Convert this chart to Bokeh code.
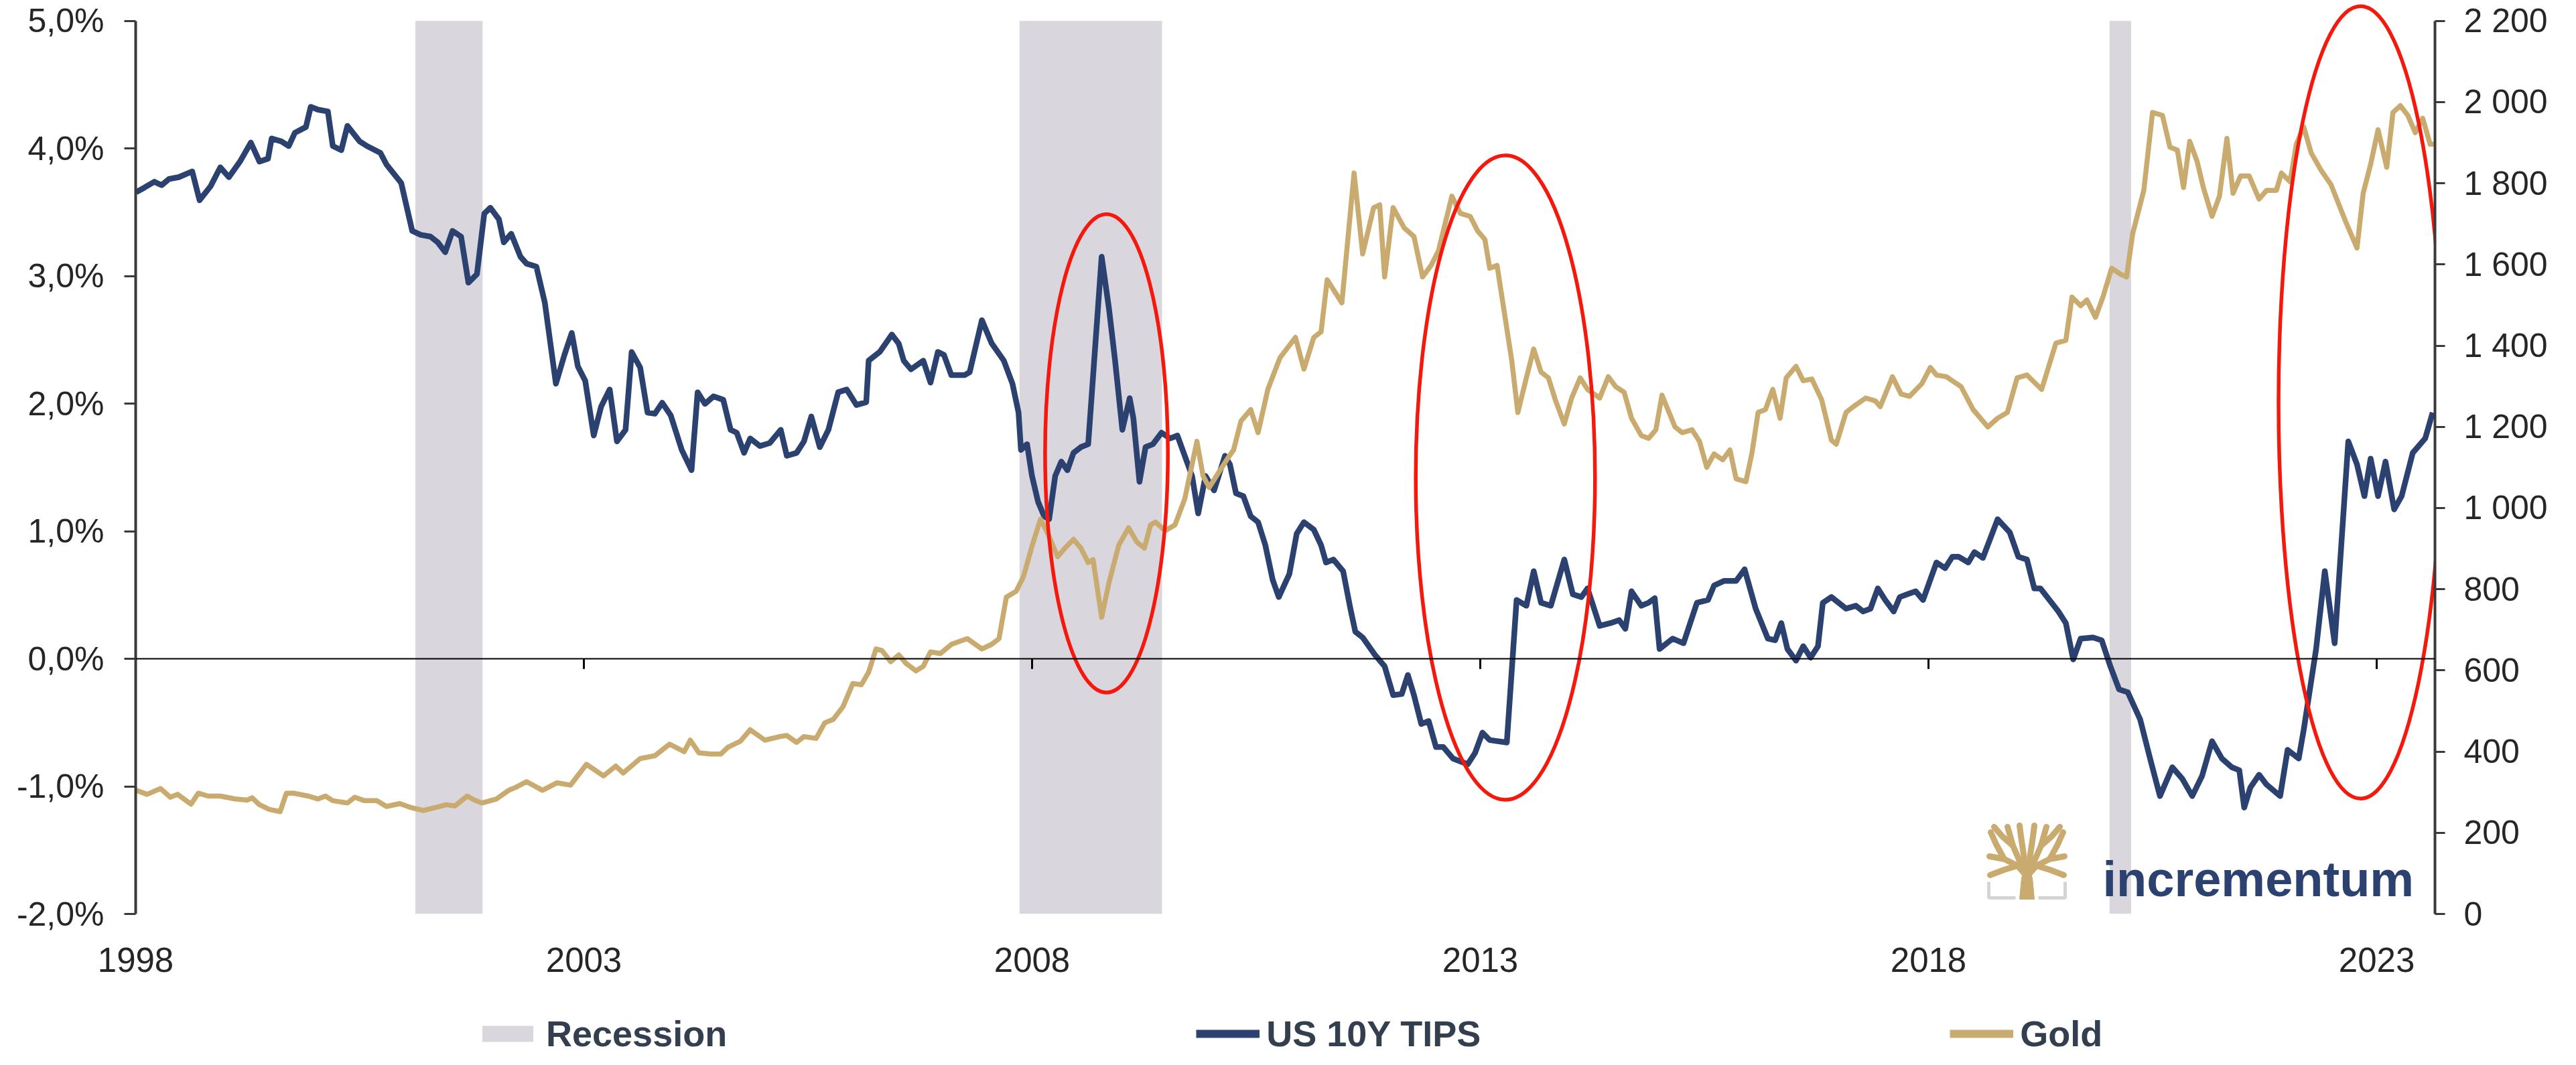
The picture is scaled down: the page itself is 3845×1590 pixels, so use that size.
from bokeh.plotting import figure
from bokeh.layouts import column
from bokeh.models import Range1d, LinearAxis, FixedTicker, Span, Legend, LegendItem
from bokeh.core.properties import value
from bokeh.embed import file_html
from bokeh.resources import INLINE

# ---------------- data ----------------
tips_x = [1998.004, 1998.099, 1998.208, 1998.290, 1998.372, 1998.481, 1998.631, 1998.713, 1998.835, 1998.944,
          1999.040, 1999.163, 1999.285, 1999.381, 1999.476, 1999.517, 1999.626, 1999.708, 1999.776, 1999.899,
          1999.953, 2000.035, 2000.144, 2000.199, 2000.294, 2000.362, 2000.499, 2000.580, 2000.730, 2000.798,
          2000.962, 2001.085, 2001.180, 2001.289, 2001.371, 2001.453, 2001.535, 2001.630, 2001.712, 2001.807,
          2001.889, 2001.957, 2002.052, 2002.107, 2002.189, 2002.293, 2002.361, 2002.470, 2002.565, 2002.688,
          2002.783, 2002.865, 2002.933, 2003.015, 2003.110, 2003.192, 2003.288, 2003.369, 2003.465, 2003.533,
          2003.628, 2003.710, 2003.792, 2003.874, 2003.969, 2004.092, 2004.201, 2004.269, 2004.351, 2004.446,
          2004.555, 2004.637, 2004.705, 2004.787, 2004.855, 2004.964, 2005.073, 2005.196, 2005.264, 2005.373,
          2005.455, 2005.537, 2005.632, 2005.728, 2005.837, 2005.932, 2006.041, 2006.150, 2006.177, 2006.300,
          2006.436, 2006.513, 2006.568, 2006.649, 2006.786, 2006.867, 2006.949, 2007.017, 2007.099, 2007.249,
          2007.304, 2007.440, 2007.549, 2007.685, 2007.781, 2007.849, 2007.876, 2007.944, 2007.999, 2008.067,
          2008.135, 2008.190, 2008.258, 2008.326, 2008.394, 2008.462, 2008.544, 2008.626, 2008.776, 2008.858,
          2008.926, 2009.007, 2009.089, 2009.130, 2009.198, 2009.266, 2009.348, 2009.444, 2009.539, 2009.621,
          2009.785, 2009.853, 2009.935, 2010.030, 2010.152, 2010.207, 2010.275, 2010.357, 2010.439, 2010.521,
          2010.602, 2010.684, 2010.752, 2010.870, 2010.952, 2011.033, 2011.142, 2011.224, 2011.279, 2011.361,
          2011.470, 2011.551, 2011.606, 2011.688, 2011.824, 2011.933, 2012.028, 2012.124, 2012.192, 2012.260,
          2012.342, 2012.424, 2012.506, 2012.587, 2012.696, 2012.860, 2012.942, 2013.024, 2013.105, 2013.296,
          2013.405, 2013.514, 2013.596, 2013.678, 2013.787, 2013.937, 2014.032, 2014.128, 2014.196, 2014.332,
          2014.455, 2014.550, 2014.618, 2014.687, 2014.796, 2014.877, 2014.946, 2015.000, 2015.145, 2015.267,
          2015.417, 2015.540, 2015.608, 2015.717, 2015.854, 2015.949, 2016.072, 2016.208, 2016.290, 2016.358,
          2016.426, 2016.522, 2016.603, 2016.685, 2016.767, 2016.821, 2016.917, 2017.080, 2017.190, 2017.271,
          2017.353, 2017.435, 2017.517, 2017.612, 2017.680, 2017.762, 2017.857, 2017.939, 2018.089, 2018.185,
          2018.266, 2018.335, 2018.444, 2018.512, 2018.607, 2018.771, 2018.907, 2019.002, 2019.098, 2019.180,
          2019.248, 2019.449, 2019.532, 2019.614, 2019.697, 2019.836, 2019.932, 2020.029, 2020.126, 2020.223,
          2020.361, 2020.472, 2020.582, 2020.720, 2020.831, 2020.942, 2021.052, 2021.163, 2021.273, 2021.384,
          2021.467, 2021.522, 2021.591, 2021.688, 2021.771, 2021.923, 2022.006, 2022.130, 2022.186, 2022.324,
          2022.421, 2022.531, 2022.683, 2022.780, 2022.863, 2022.932, 2023.015, 2023.098, 2023.195, 2023.278,
          2023.402, 2023.541, 2023.624]
tips_y = [3.657, 3.694, 3.739, 3.712, 3.761, 3.775, 3.820, 3.594, 3.703, 3.852,
          3.775, 3.897, 4.046, 3.897, 3.920, 4.078, 4.055, 4.019, 4.123, 4.168,
          4.326, 4.304, 4.290, 4.019, 3.987, 4.177, 4.055, 4.019, 3.965, 3.874,
          3.730, 3.354, 3.323, 3.309, 3.264, 3.187, 3.354, 3.309, 2.948, 3.015,
          3.490, 3.535, 3.445, 3.264, 3.332, 3.151, 3.097, 3.074, 2.789, 2.156,
          2.382, 2.554, 2.292, 2.179, 1.750, 1.976, 2.111, 1.704, 1.795, 2.405,
          2.283, 1.930, 1.921, 2.007, 1.908, 1.637, 1.478, 2.089, 1.998, 2.057,
          2.030, 1.795, 1.772, 1.614, 1.727, 1.668, 1.691, 1.795, 1.591, 1.614,
          1.704, 1.899, 1.659, 1.795, 2.089, 2.111, 1.989, 2.012, 2.337, 2.405,
          2.541, 2.470, 2.337, 2.269, 2.337, 2.165, 2.405, 2.382, 2.224, 2.224,
          2.247, 2.654, 2.473, 2.337, 2.156, 1.930, 1.637, 1.682, 1.433, 1.230,
          1.117, 1.094, 1.433, 1.546, 1.478, 1.614, 1.659, 1.682, 3.151, 2.744,
          2.337, 1.795, 2.043, 1.885, 1.388, 1.659, 1.682, 1.772, 1.727, 1.750,
          1.433, 1.139, 1.433, 1.320, 1.591, 1.524, 1.297, 1.275, 1.117, 1.071,
          0.891, 0.619, 0.484, 0.664, 0.981, 1.071, 1.013, 0.891, 0.755, 0.778,
          0.687, 0.393, 0.212, 0.167, 0.032, -0.059, -0.285, -0.276, -0.127, -0.285,
          -0.511, -0.488, -0.692, -0.692, -0.782, -0.827, -0.737, -0.579, -0.637, -0.656,
          0.461, 0.416, 0.687, 0.439, 0.416, 0.778, 0.506, 0.484, 0.552, 0.258,
          0.280, 0.303, 0.235, 0.529, 0.416, 0.439, 0.475, 0.077, 0.158, 0.122,
          0.439, 0.461, 0.574, 0.610, 0.610, 0.701, 0.393, 0.158, 0.145, 0.280,
          0.077, -0.014, 0.099, 0.009, 0.099, 0.439, 0.484, 0.393, 0.416, 0.371,
          0.393, 0.552, 0.461, 0.371, 0.484, 0.506, 0.529, 0.461, 0.755, 0.710,
          0.800, 0.800, 0.755, 0.836, 0.791, 1.094, 0.990, 0.800, 0.778, 0.552,
          0.552, 0.371, 0.280, -0.005, 0.158, 0.167, 0.145, -0.059, -0.240, -0.262,
          -0.475, -0.782, -1.076, -0.850, -0.940, -1.076, -0.918, -0.646, -0.782, -0.850,
          -0.873, -1.166, -1.008, -0.909, -0.986, -1.076, -0.714, -0.782, -0.556, 0.077,
          0.687, 0.122, 1.704, 1.524, 1.275, 1.569, 1.275, 1.546, 1.171, 1.275,
          1.614, 1.727, 1.930]

gold_x = [1998.004, 1998.127, 1998.277, 1998.386, 1998.467, 1998.617, 1998.699, 1998.808, 1998.944, 1999.108,
          1999.244, 1999.299, 1999.381, 1999.490, 1999.612, 1999.681, 1999.762, 1999.926, 2000.035, 2000.117,
          2000.199, 2000.362, 2000.444, 2000.553, 2000.689, 2000.798, 2000.948, 2001.071, 2001.207, 2001.344,
          2001.467, 2001.562, 2001.698, 2001.780, 2001.862, 2002.025, 2002.162, 2002.238, 2002.361, 2002.538,
          2002.701, 2002.851, 2003.029, 2003.219, 2003.356, 2003.438, 2003.628, 2003.792, 2003.956, 2004.119,
          2004.187, 2004.283, 2004.419, 2004.528, 2004.610, 2004.746, 2004.855, 2005.019, 2005.182, 2005.264,
          2005.373, 2005.455, 2005.591, 2005.687, 2005.782, 2005.891, 2006.000, 2006.096, 2006.177, 2006.259,
          2006.327, 2006.423, 2006.513, 2006.595, 2006.704, 2006.786, 2006.867, 2006.976, 2007.099, 2007.276,
          2007.440, 2007.549, 2007.631, 2007.713, 2007.822, 2007.903, 2008.012, 2008.094, 2008.176, 2008.285,
          2008.367, 2008.462, 2008.544, 2008.626, 2008.680, 2008.776, 2008.858, 2008.967, 2009.076, 2009.171,
          2009.253, 2009.321, 2009.376, 2009.485, 2009.594, 2009.703, 2009.771, 2009.839, 2009.907, 2009.976,
          2010.057, 2010.180, 2010.248, 2010.330, 2010.439, 2010.521, 2010.630, 2010.766, 2010.938, 2011.033,
          2011.142, 2011.224, 2011.292, 2011.456, 2011.592, 2011.688, 2011.810, 2011.878, 2011.933, 2012.028,
          2012.151, 2012.260, 2012.356, 2012.451, 2012.533, 2012.683, 2012.778, 2012.887, 2012.969, 2013.051,
          2013.105, 2013.187, 2013.351, 2013.419, 2013.514, 2013.596, 2013.678, 2013.760, 2013.841, 2013.937,
          2014.019, 2014.114, 2014.196, 2014.332, 2014.428, 2014.509, 2014.605, 2014.687, 2014.796, 2014.877,
          2014.959, 2015.027, 2015.172, 2015.254, 2015.363, 2015.445, 2015.526, 2015.608, 2015.704, 2015.785,
          2015.854, 2015.963, 2016.031, 2016.099, 2016.181, 2016.263, 2016.344, 2016.413, 2016.522, 2016.603,
          2016.699, 2016.808, 2016.917, 2016.971, 2017.080, 2017.162, 2017.299, 2017.408, 2017.462, 2017.598,
          2017.694, 2017.789, 2017.926, 2018.021, 2018.089, 2018.198, 2018.362, 2018.498, 2018.662, 2018.771,
          2018.880, 2018.989, 2019.098, 2019.262, 2019.421, 2019.532, 2019.601, 2019.697, 2019.767, 2019.863,
          2019.946, 2020.043, 2020.140, 2020.209, 2020.278, 2020.402, 2020.499, 2020.610, 2020.693, 2020.776,
          2020.845, 2020.914, 2020.997, 2021.066, 2021.163, 2021.246, 2021.329, 2021.398, 2021.481, 2021.577,
          2021.688, 2021.771, 2021.881, 2021.937, 2022.034, 2022.103, 2022.186, 2022.269, 2022.379, 2022.490,
          2022.656, 2022.780, 2022.849, 2022.932, 2023.015, 2023.112, 2023.181, 2023.264, 2023.347, 2023.430,
          2023.513, 2023.596, 2023.637]
gold_y = [304.6, 294.7, 308.9, 287.6, 294.7, 270.5, 297.5, 290.4, 290.4, 283.3,
          280.5, 286.1, 269.1, 257.7, 252.0, 297.5, 297.5, 290.4, 283.3, 290.4,
          279.1, 273.3, 287.6, 279.1, 279.1, 264.8, 271.9, 262.0, 254.9, 262.0,
          269.1, 266.2, 290.4, 280.5, 273.3, 283.3, 304.6, 311.7, 325.9, 304.6,
          323.1, 317.4, 368.6, 340.1, 364.3, 347.2, 382.8, 389.9, 418.3, 399.8,
          428.2, 397.0, 394.1, 394.1, 411.2, 425.4, 453.8, 428.2, 436.8, 439.6,
          422.6, 436.8, 432.5, 470.9, 479.4, 510.7, 567.5, 564.7, 595.9, 652.8,
          648.5, 621.5, 638.0, 617.2, 598.8, 610.1, 645.7, 641.4, 664.1, 678.3,
          652.8, 664.1, 678.3, 780.6, 794.9, 830.4, 915.6, 972.5, 936.9, 880.1,
          901.4, 922.7, 901.4, 865.9, 873.0, 730.9, 816.2, 908.5, 951.2, 915.6,
          901.4, 958.3, 965.4, 944.1, 958.3, 1022.2, 1093.3, 1164.3, 1079.1, 1050.6,
          1079.1, 1121.7, 1143.0, 1214.1, 1242.5, 1185.6, 1292.2, 1370.4, 1420.1, 1341.9,
          1420.1, 1434.3, 1562.2, 1505.4, 1825.1, 1626.1, 1739.8, 1746.9, 1569.3, 1739.8,
          1690.1, 1668.8, 1569.3, 1597.7, 1633.2, 1768.2, 1725.6, 1718.5, 1683.0, 1661.7,
          1590.6, 1597.7, 1363.3, 1235.4, 1320.6, 1391.7, 1334.8, 1320.6, 1263.8, 1206.9,
          1270.9, 1320.6, 1292.2, 1270.9, 1323.5, 1299.3, 1285.1, 1221.2, 1178.5, 1171.4,
          1192.7, 1278.0, 1199.8, 1185.6, 1192.7, 1164.3, 1100.4, 1133.1, 1118.8, 1143.0,
          1072.0, 1064.8, 1135.9, 1235.4, 1242.5, 1292.2, 1221.2, 1320.6, 1349.0, 1313.5,
          1317.8, 1266.6, 1167.2, 1157.2, 1235.4, 1249.6, 1270.9, 1263.8, 1249.6, 1323.5,
          1280.8, 1275.2, 1306.4, 1346.2, 1327.7, 1323.5, 1299.3, 1242.5, 1199.8, 1221.2,
          1235.4, 1320.6, 1327.7, 1292.2, 1405.9, 1413.0, 1519.6, 1498.3, 1512.4, 1469.8,
          1519.6, 1590.6, 1576.4, 1569.3, 1675.9, 1782.5, 1974.3, 1967.2, 1889.0, 1881.9,
          1789.6, 1903.2, 1853.5, 1789.6, 1718.5, 1768.2, 1910.3, 1775.3, 1818.0, 1818.0,
          1761.1, 1782.5, 1782.5, 1825.1, 1803.8, 1896.1, 1938.8, 1874.8, 1832.2, 1796.7,
          1704.3, 1640.4, 1775.3, 1846.4, 1931.7, 1839.3, 1974.3, 1991.3, 1967.2, 1924.6,
          1960.1, 1896.1, 1896.1]

recession_start = [2001.12, 2007.86, 2020.02]
recession_end = [2001.87, 2009.45, 2020.26]

highlight_x = [2008.83, 2013.28, 2022.82]
highlight_y = [1.61, 1.42, 2.01]
highlight_w = [1.37, 2.00, 1.83]
highlight_h = [3.75, 5.05, 6.22]

x_ticks = [1998, 2003, 2008, 2013, 2018, 2023]
x_labels = ["1998", "2003", "2008", "2013", "2018", "2023"]
left_ticks = [-2, -1, 0, 1, 2, 3, 4, 5]
left_labels = ["-2,0%", "-1,0%", "0,0%", "1,0%", "2,0%", "3,0%", "4,0%", "5,0%"]
right_ticks = [0, 200, 400, 600, 800, 1000, 1200, 1400, 1600, 1800, 2000, 2200]
right_labels = ["0", "200", "400", "600", "800", "1 000", "1 200", "1 400", "1 600", "1 800", "2 000", "2 200"]
legend_labels = ["Recession", "US 10Y TIPS", "Gold"]

# ---------------- styling ----------------
NAVY = "#2b4170"
GOLD = "#c9ab6f"
REC = "#d9d6dd"
RED = "#f5180c"
AXC = "#3a3a3a"
TXT = "#262626"
FONT = "Liberation Sans"

W = 3829
FW, FH = 3432, 1360
X0, X1 = 1998.0, 2023.65
Y0, Y1 = -2.0, 5.14
G0, G1 = 0.0, (Y1 - Y0) * 2200.0 / 7.0
TOP, BOTTOM = 4, 125
H1 = TOP + FH + BOTTOM
H2 = 1574 - H1

p = figure(width=W, height=H1,
           x_range=Range1d(X0, X1), y_range=Range1d(Y0, Y1),
           output_backend="svg", toolbar_location=None,
           x_axis_location=None, y_axis_location=None,
           min_border_left=202, min_border_right=195, min_border_top=TOP, min_border_bottom=BOTTOM,
           background_fill_color="white", border_fill_color="white",
           outline_line_color=None)
p.xgrid.visible = False
p.ygrid.visible = False
p.extra_y_ranges = {"gold": Range1d(G0, G1)}


def img(ix, iy):
    """image pixel -> data coordinates (used for decoration placement only)"""
    return X0 + (ix - 210) * (X1 - X0) / FW, Y1 - (iy - 12) * (Y1 - Y0) / FH


# left axis
ya = LinearAxis(ticker=FixedTicker(ticks=left_ticks), bounds=(-2, 5),
                major_label_overrides={t: l for t, l in zip(left_ticks, left_labels)})
ya.axis_line_color = AXC
ya.axis_line_width = 4
ya.major_tick_line_color = AXC
ya.major_tick_line_width = 3
ya.major_tick_out = 17
ya.major_tick_in = 0
ya.minor_tick_line_color = None
ya.major_label_standoff = 30
ya.major_label_text_font = FONT
ya.major_label_text_font_size = "50px"
ya.major_label_text_color = TXT
p.add_layout(ya, "left")

# right axis
ga = LinearAxis(y_range_name="gold", ticker=FixedTicker(ticks=right_ticks), bounds=(0, 2200),
                major_label_overrides={t: l for t, l in zip(right_ticks, right_labels)})
ga.axis_line_color = AXC
ga.axis_line_width = 4
ga.major_tick_line_color = AXC
ga.major_tick_line_width = 3
ga.major_tick_out = 15
ga.major_tick_in = 0
ga.minor_tick_line_color = None
ga.major_label_standoff = 28
ga.major_label_text_font = FONT
ga.major_label_text_font_size = "50px"
ga.major_label_text_color = TXT
p.add_layout(ga, "right")

# bottom axis: year labels only
xa = LinearAxis(ticker=FixedTicker(ticks=x_ticks),
                major_label_overrides={t: l for t, l in zip(x_ticks, x_labels)})
xa.axis_line_color = None
xa.major_tick_line_color = None
xa.minor_tick_line_color = None
xa.major_tick_out = 0
xa.major_tick_in = 0
xa.major_label_standoff = 50
xa.major_label_text_font = FONT
xa.major_label_text_font_size = "51px"
xa.major_label_text_color = TXT
p.add_layout(xa, "below")

# recession shading
p.quad(left=recession_start, right=recession_end, bottom=-2, top=5,
       fill_color=REC, line_color=None)

# zero line with small year ticks
p.add_layout(Span(location=0, dimension="width", line_color="black", line_width=2))
p.segment(x0=x_ticks, y0=[0] * len(x_ticks), x1=x_ticks, y1=[-0.08] * len(x_ticks),
          line_color="black", line_width=3)

# series
p.line(tips_x, tips_y, line_color=NAVY, line_width=8.5, line_join="round")
p.line(gold_x, gold_y, y_range_name="gold", line_color=GOLD, line_width=7.5, line_join="round")

# highlight ellipses
p.ellipse(x=highlight_x, y=highlight_y, width=highlight_w, height=highlight_h,
          fill_color=None, line_color=RED, line_width=5.5)

# logo (decoration)
LX, LY = 2974, 1238
branches = [
    [(59, 78), (45, 62), (25, 52), (3, 48)],
    [(59, 78), (48, 55), (38, 32), (30, 4)],
    [(58, 75), (54, 45), (50, 18), (48, 2)],
    [(60, 75), (64, 45), (68, 18), (70, 2)],
    [(59, 78), (70, 55), (80, 32), (88, 4)],
    [(59, 78), (73, 62), (93, 52), (115, 48)],
    [(45, 62), (25, 68), (4, 76)],
    [(73, 62), (93, 68), (114, 76)],
    [(25, 52), (13, 30), (5, 12)],
    [(93, 52), (105, 30), (113, 12)],
    [(38, 32), (22, 18), (10, 4)],
    [(80, 32), (96, 18), (108, 4)],
]
bx, by = [], []
for b in branches:
    pts = [img(LX + a, LY + c) for a, c in b]
    bx.append([q[0] for q in pts])
    by.append([q[1] for q in pts])
p.multi_line(bx, by, line_color=GOLD, line_width=9, line_cap="round", line_join="round")
trunk = [img(LX + a, LY + c) for a, c in [(48, 112), (70, 112), (67, 80), (63, 68), (55, 68), (51, 80)]]
p.patch([q[0] for q in trunk], [q[1] for q in trunk], fill_color=GOLD, line_color=GOLD)
brk = [[(2, 86), (2, 110), (42, 110)], [(116, 86), (116, 110), (76, 110)]]
kx, ky = [], []
for b in brk:
    pts = [img(LX + a, LY + c) for a, c in b]
    kx.append([q[0] for q in pts])
    ky.append([q[1] for q in pts])
p.multi_line(kx, ky, line_color="#d4d4d6", line_width=5)
tx, ty = img(3146, 1320)
p.text(x=[tx], y=[ty], text=["incrementum"], text_font=value(FONT), text_font_size=value("74px"),
       text_font_style="bold", text_color=NAVY, text_baseline="alphabetic", text_align="left")

# ---------------- legend strip (its frame is aligned with the chart frame) ----------------
q = figure(width=W, height=H2, x_range=Range1d(0, 1), y_range=Range1d(0, 1),
           output_backend="svg", toolbar_location=None,
           x_axis_location=None, y_axis_location=None,
           min_border_left=0, min_border_right=0, min_border_top=0, min_border_bottom=0,
           background_fill_color="white", border_fill_color="white", outline_line_color=None)
q.xgrid.visible = False
q.ygrid.visible = False
nan = float("nan")
leg_rec = q.quad(left=[nan], right=[nan], bottom=[nan], top=[nan], fill_color=REC, line_color=None)
leg_tips = q.line([nan], [nan], line_color=NAVY, line_width=12)
leg_gold = q.line([nan], [nan], line_color=GOLD, line_width=12)
legend = Legend(items=[LegendItem(label=legend_labels[0], renderers=[leg_rec]),
                       LegendItem(label=legend_labels[1], renderers=[leg_tips]),
                       LegendItem(label=legend_labels[2], renderers=[leg_gold])],
                orientation="horizontal", location=(508, 0),
                spacing=700, glyph_width=95, glyph_height=30, label_standoff=10,
                padding=0, margin=0, border_line_color=None, background_fill_alpha=0,
                label_text_font=FONT, label_text_font_size="54px", label_text_font_style="bold",
                label_text_color="#333f4f")
q.add_layout(legend, "center")

layout = column(p, q, spacing=0)
open("out.html", "w").write(file_html(layout, INLINE))
